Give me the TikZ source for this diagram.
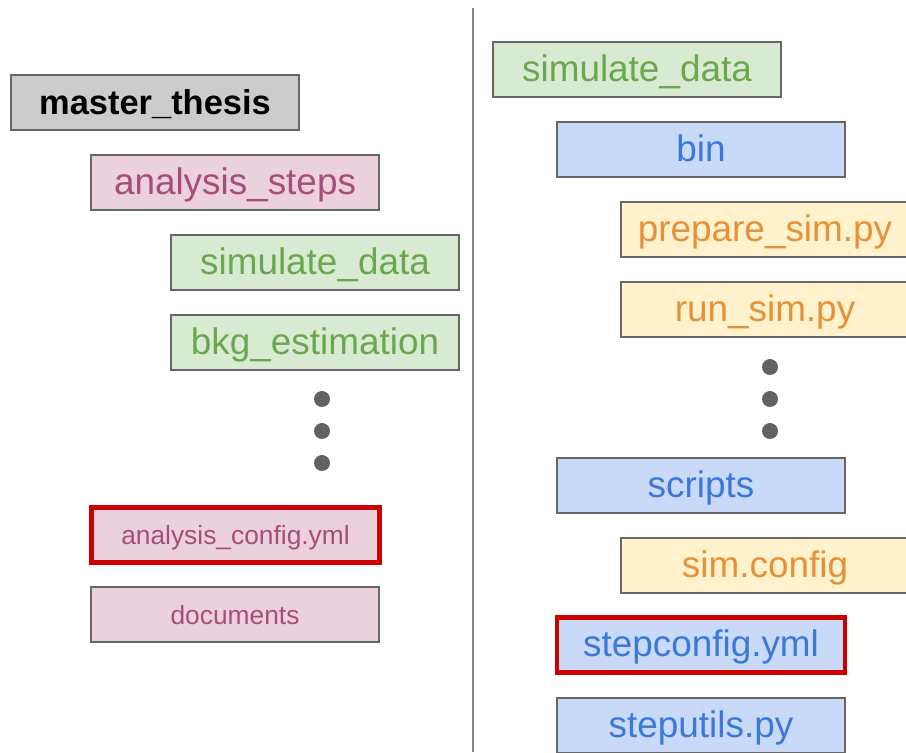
\documentclass[tikz,border=0pt]{standalone}
\usepackage{fontspec}
\setmainfont{Liberation Sans}
\usetikzlibrary{positioning}

\definecolor{greyfill}{HTML}{CCCCCC}
\definecolor{pinkfill}{HTML}{EAD1DC}
\definecolor{pinktext}{HTML}{A64D79}
\definecolor{greenfill}{HTML}{D9EAD3}
\definecolor{greentext}{HTML}{6AA84F}
\definecolor{bluefill}{HTML}{C9DAF8}
\definecolor{bluetext}{HTML}{3C78D8}
\definecolor{orangefill}{HTML}{FFF2CC}
\definecolor{orangetext}{HTML}{E69138}
\definecolor{boxframe}{HTML}{666666}
\definecolor{hilite}{HTML}{CC0000}
\definecolor{dotgrey}{HTML}{5F6368}

\begin{document}
\begin{tikzpicture}[x=0.02cm,y=-0.02cm,node distance=1.6cm,
	dir node/.style={rectangle,draw=boxframe,line width=1.1pt,minimum width=5.76cm,minimum height=1.1cm,
		inner sep=0pt,text height=15pt,text depth=1.4pt,font=\fontsize{21}{24}\selectfont},
	small node/.style={dir node,text height=12pt,text depth=0.7pt,font=\fontsize{15}{18}\selectfont},
	top node/.style={dir node,fill=greyfill,font=\fontsize{19.6}{24}\selectfont\bfseries},
	pink node/.style={fill=pinkfill,text=pinktext},
	green node/.style={fill=greenfill,text=greentext},
	blue node/.style={fill=bluefill,text=bluetext},
	orange node/.style={fill=orangefill,text=orangetext},
	cfg node/.style={draw=hilite,line width=2.8pt},
	dot node/.style={circle,fill=dotgrey,inner sep=0pt,minimum size=0.32cm}]

	\useasboundingbox (0,0) rectangle (906,752);
	\clip (0,0) rectangle (906,752);

	% left column: thesis repository
	\node[top node] (thesis) at (155,102.5) {master\_thesis};
	\node[dir node, pink node] (steps) at (235,182.5) {analysis\_steps};
	\node[dir node, green node] (lsim) at (315,262.5) {simulate\_data};
	\node[dir node, green node] (bkg) [below of=lsim] {bkg\_estimation};
	\foreach \i/\y in {1/399,2/431,3/463}
		\node[dot node] (ldot\i) at (322,\y) {};
	\node[small node, pink node, cfg node] (acfg) at (235.5,535) {analysis\_config.yml};
	\node[small node, pink node] (docs) at (235,614.5) {documents};

	% separator
	\coordinate (septop) at (473,8);
	\coordinate (sepbot) at (473,752);
	\draw[boxframe!80,line width=1.2pt] (septop) -- (sepbot);

	% right column: one analysis step
	\node[dir node, green node] (rsim) at (637,69.5) {simulate\_data};
	\node[dir node, blue node] (bin) at (701,149.5) {bin};
	\node[dir node, orange node] (prep) at (765,229.5) {prepare\_sim.py};
	\node[dir node, orange node] (run) [below of=prep] {run\_sim.py};
	\foreach \i/\y in {1/367,2/399,3/431}
		\node[dot node] (rdot\i) at (770,\y) {};
	\node[dir node, blue node] (scripts) at (701,485.5) {scripts};
	\node[dir node, orange node] (simcfg) at (765,565.5) {sim.config};
	\node[dir node, blue node, cfg node] (stepcfg) at (701,645) {stepconfig.yml};
	\node[dir node, blue node] (utils) at (701,725.5) {steputils.py};

\end{tikzpicture}
\end{document}
